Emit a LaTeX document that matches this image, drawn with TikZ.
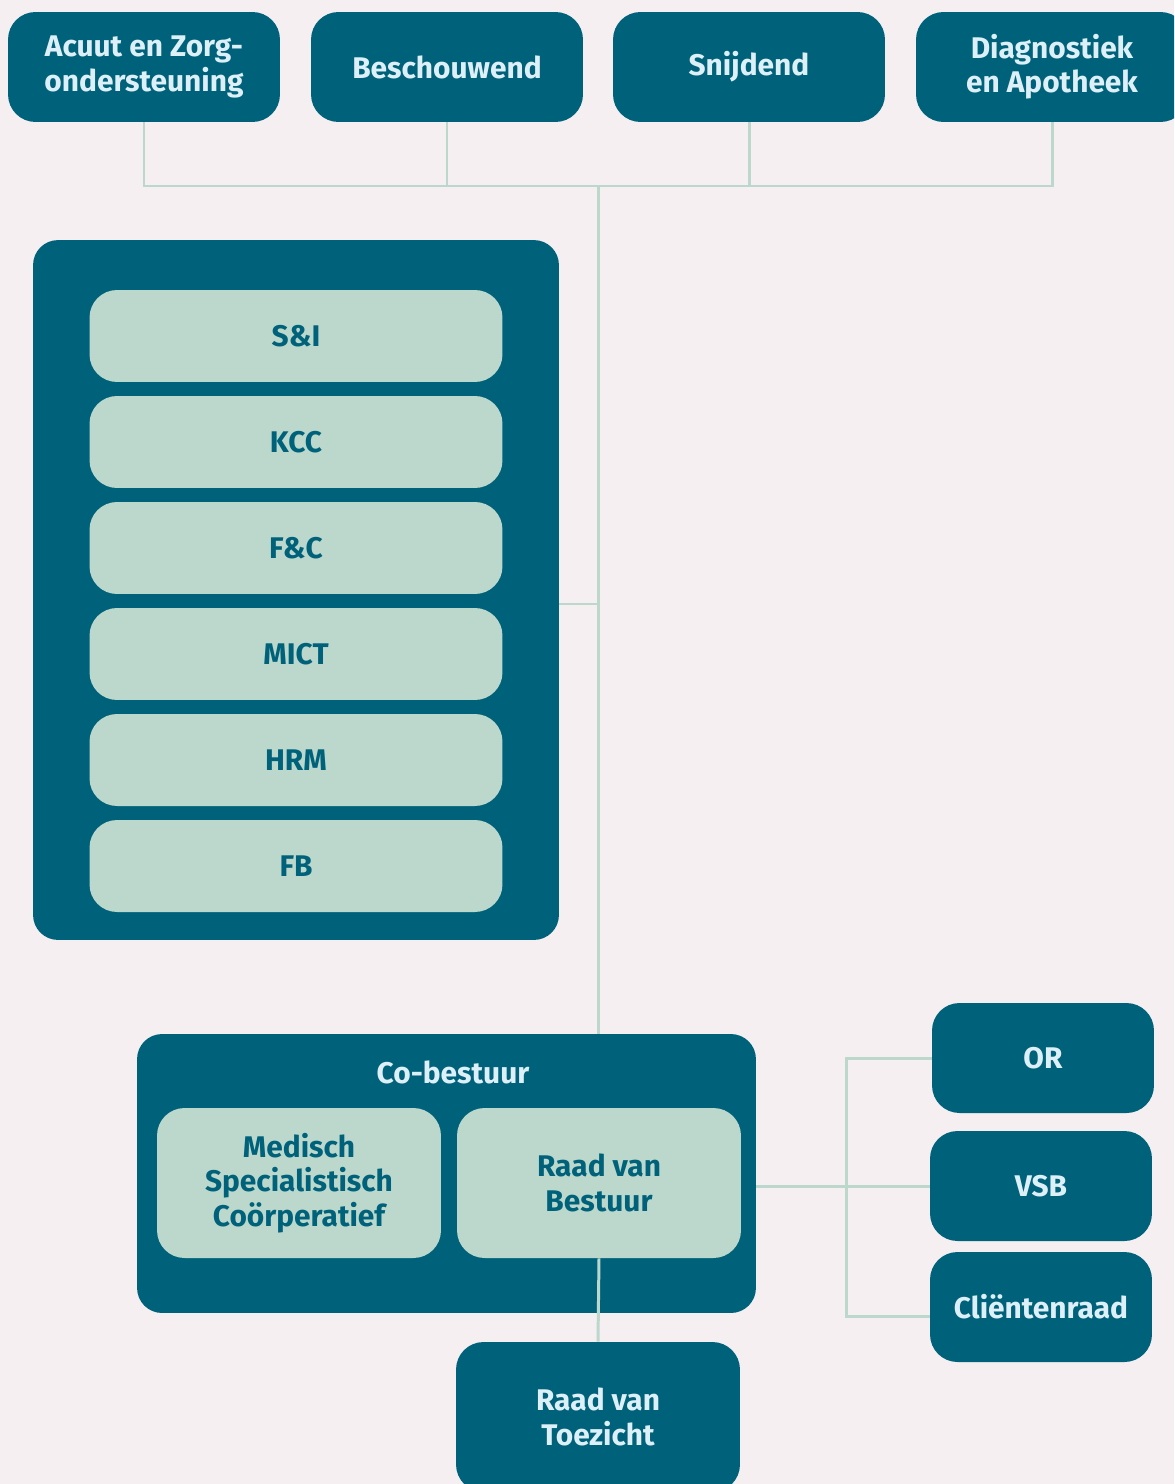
\documentclass[tikz,border=0pt]{standalone}
\usepackage{fontspec}
\setmainfont{Fira Sans}
\usepackage{tikz}
\usetikzlibrary{positioning}
\definecolor{bgpink}{RGB}{245,239,241}
\definecolor{darkteal}{RGB}{0,98,122}
\definecolor{mint}{RGB}{188,216,204}
\definecolor{paleblue}{RGB}{221,240,247}
\newcommand{\boxfont}{\bfseries\fontsize{17}{19.5}\selectfont}

\begin{document}
\begin{tikzpicture}[x=0.02cm,y=-0.02cm,
  unit/.style ={fill=darkteal,rounded corners=0.55cm,minimum width=5.44cm,
                minimum height=2.2cm,text=paleblue,font=\boxfont,
                align=center,inner sep=0pt},
  dept/.style ={fill=mint,rounded corners=0.55cm,minimum width=8.26cm,
                minimum height=1.84cm,text=darkteal,font=\boxfont,
                align=center,inner sep=0pt},
  board/.style={fill=mint,rounded corners=0.55cm,minimum width=5.68cm,
                minimum height=3cm,text=darkteal,font=\boxfont,
                align=center,inner sep=0pt},
  council/.style={unit,minimum width=4.44cm},
  group/.style={fill=darkteal,rounded corners=0.5cm,inner sep=0pt},
  link/.style ={draw=mint,line width=1.7pt},
]
\useasboundingbox (0,0) rectangle (1174,1484);
\clip (0,0) rectangle (1174,1484);
\fill[bgpink] (0,0) rectangle (1174,1484);

% clusters (top row)
\node[unit] (acuut) at (144,67)  {Acuut en Zorg-\\ondersteuning};
\node[unit] (besch) at (447,67)  {Beschouwend};
\node[unit] (snij)  at (749,67)  {Snijdend};
\node[unit] (diag)  at (1052,67) {Diagnostiek\\en Apotheek};

% staff departments
\node[group,minimum width=10.52cm,minimum height=14cm] (staf) at (296,590) {};
\foreach \name/\label [count=\i from 0] in
    {si/S\&I, kcc/KCC, fc/F\&C, mict/MICT, hrm/HRM, fb/FB}
  \node[dept] (\name) at (296,336+106*\i) {\label};

% co-governance
\node[group,minimum width=12.38cm,minimum height=5.58cm] (cobest) at (446.5,1173.5) {};
\node[text=paleblue,font=\boxfont] (cotitle) at (453,1072) {Co-bestuur};
\node[board] (msc) at (299,1183) {Medisch\\Specialistisch\\Coörperatief};
\node[board] (rvb) at (599,1183) {Raad van\\Bestuur};
\node[unit,minimum width=5.68cm,minimum height=3cm] (rvt) at (598,1417)
  {Raad van\\Toezicht};

% councils
\node[council] (or)     at (1043,1058) {OR};
\node[council] (vsb)    at (1041,1186) {VSB};
\node[council] (client) at (1041,1307) {Cliëntenraad};

% connectors
\coordinate (hub)  at (598,186);
\coordinate (rbus) at (846,1186);
\draw[link] (acuut.south) |- (hub);
\draw[link] (diag.south)  |- (hub);
\draw[link] (besch.south) -- (besch.south |- hub);
\draw[link] (snij.south)  -- (snij.south |- hub);
\draw[link] (hub) -- (hub |- cobest.north);
\draw[link] ([yshift=-0.28cm]staf.east) -- ([yshift=-0.28cm]staf.east -| hub);
\draw[link] (rvb.south) -- (rvt.north);
\draw[link] (cobest.east |- rbus) -- (vsb.west);
\draw[link] (or.west) -| (rbus);
\draw[link] ([yshift=-0.18cm]client.west) -| (rbus);
\end{tikzpicture}
\end{document}
